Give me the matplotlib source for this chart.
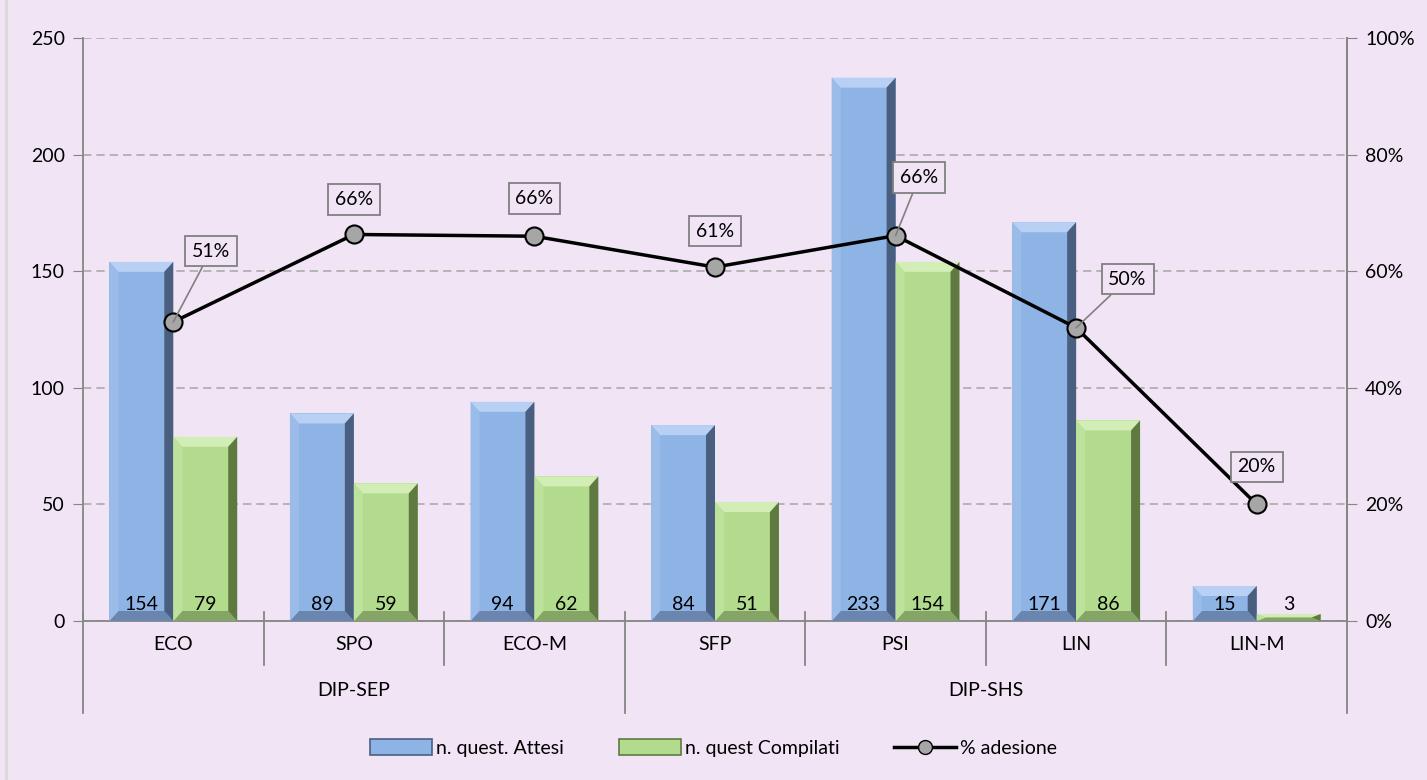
import matplotlib
matplotlib.use("Agg")
import matplotlib.pyplot as plt
from matplotlib.patches import Polygon
from matplotlib.lines import Line2D
from matplotlib.ticker import PercentFormatter
import matplotlib.transforms as mtransforms

# data
categories = ["ECO", "SPO", "ECO-M", "SFP", "PSI", "LIN", "LIN-M"]
groups = ["DIP-SEP", "DIP-SHS"]
group_sizes = [3, 4]
attesi = [154, 89, 94, 84, 233, 171, 15]
compilati = [79, 59, 62, 51, 154, 86, 3]
adesione = [0.513, 0.663, 0.660, 0.607, 0.661, 0.503, 0.20]

# label offsets for the % labels (points)
label_offsets = [(27, 51), (0, 25), (0, 27), (0, 26), (17, 42), (37, 35), (0, 27)]
leader = [True, False, False, False, True, True, False]

bg = "#F0E4F5"
grey = "#868686"
fs = 14
plt.rcParams["font.family"] = ["Lato", "DejaVu Sans"]

fig = plt.figure(figsize=(14.27, 7.8), dpi=100, facecolor=bg)
ax = fig.add_axes([83 / 1427, 1 - 621 / 780, 1264 / 1427, 583 / 780])
ax.set_facecolor(bg)
ax.set_xlim(-0.5, len(categories) - 0.5)
ax.set_ylim(0, 250)

w = 0.354
x = list(range(len(categories)))
bars_a = ax.bar([i - w / 2 for i in x], attesi, w, color="#8EB4E5", zorder=2)
bars_c = ax.bar([i + w / 2 for i in x], compilati, w, color="#B2DB8E", zorder=2)

# px to data units
px_x = (len(categories)) / 1264.0
px_y = 250 / 583.0


def bevel(bars, top, left, right, bottom):
    for b in bars:
        x0, y0 = b.get_x(), b.get_y()
        x1, y1 = x0 + b.get_width(), y0 + b.get_height()
        dy = min(10 * px_y, (y1 - y0) / 2)
        dx = 9 * px_x
        pts = {
            "top": [(x0, y1), (x1, y1), (x1 - dx, y1 - dy), (x0 + dx, y1 - dy)],
            "bottom": [(x0, y0), (x1, y0), (x1 - dx, y0 + dy), (x0 + dx, y0 + dy)],
            "left": [(x0, y0), (x0, y1), (x0 + dx, y1 - dy), (x0 + dx, y0 + dy)],
            "right": [(x1, y0), (x1, y1), (x1 - dx, y1 - dy), (x1 - dx, y0 + dy)],
        }
        for side, col in (("top", top), ("bottom", bottom), ("left", left), ("right", right)):
            ax.add_patch(Polygon(pts[side], closed=True, facecolor=col, edgecolor="none", zorder=3))


bevel(bars_a, "#B8D0F3", "#9BBCE9", "#4A5F80", "#6A86B0")
bevel(bars_c, "#D2EEB6", "#BCE29C", "#5F7A40", "#84A566")

for i in x:
    ax.text(i - w / 2, 7, str(attesi[i]), ha="center", va="center", fontsize=fs, zorder=5)
    ax.text(i + w / 2, 7, str(compilati[i]), ha="center", va="center", fontsize=fs, zorder=5)

# grid and axes
ax.set_yticks([0, 50, 100, 150, 200, 250])
ax.yaxis.grid(True, color="#ABABAB", linestyle=(0, (5, 3)), linewidth=1.2, zorder=0)
ax.set_axisbelow(True)
ax.spines["top"].set_visible(False)
for s in ["left", "bottom", "right"]:
    ax.spines[s].set_color(grey)
    ax.spines[s].set_linewidth(1.3)
ax.tick_params(axis="y", colors=grey, labelcolor="black", labelsize=fs, length=7, pad=6)
ax.set_xticks([])

ax2 = ax.twinx()
ax2.set_ylim(0, 1)
ax2.set_yticks([0, 0.2, 0.4, 0.6, 0.8, 1.0])
ax2.yaxis.set_major_formatter(PercentFormatter(1.0, decimals=0))
ax2.tick_params(axis="y", colors=grey, labelcolor="black", labelsize=fs, length=7, pad=6)
for s in ["top", "left", "bottom"]:
    ax2.spines[s].set_visible(False)
ax2.spines["right"].set_color(grey)
ax2.spines["right"].set_linewidth(1.3)

ax2.plot(x, adesione, color="black", linewidth=2.5, marker="o", markersize=13,
         markerfacecolor="#A6A6A6", markeredgecolor="black", markeredgewidth=1.5, zorder=4)

for i, v in enumerate(adesione):
    kw = {}
    if leader[i]:
        kw["arrowprops"] = dict(arrowstyle="-", color="#808080", lw=1.2, shrinkA=0, shrinkB=0)
    ax2.annotate(f"{round(v * 100):.0f}%", xy=(i, v), xytext=label_offsets[i],
                 textcoords="offset points", ha="center", va="center", fontsize=fs,
                 bbox=dict(boxstyle="square,pad=0.35", fc=bg, ec="#808080", lw=1.3),
                 zorder=6, **kw)

# multi level category axis
trans = mtransforms.blended_transform_factory(ax.transData, ax.transAxes)
f = 1 / 583.0
for i, c in enumerate(categories):
    ax.text(i, -23 * f, c, transform=trans, ha="center", va="center", fontsize=fs)

bounds = [-0.5]
for n in group_sizes:
    bounds.append(bounds[-1] + n)
for k in range(len(categories) + 1):
    b = k - 0.5
    low = -92 * f if b in bounds else -44 * f
    ax.plot([b, b], [9 * f, low], transform=trans, color=grey, lw=1.3, clip_on=False)
for g, name in enumerate(groups):
    mid = (bounds[g] + bounds[g + 1]) / 2
    ax.text(mid, -69 * f, name, transform=trans, ha="center", va="center", fontsize=fs)

# legend
handles = [
    plt.Rectangle((0, 0), 1, 1, facecolor="#8EB4E5", edgecolor="#4A5F80", lw=1.2),
    plt.Rectangle((0, 0), 1, 1, facecolor="#B2DB8E", edgecolor="#5F7A40", lw=1.2),
    Line2D([0], [0], color="black", lw=2.5, marker="o", markersize=10,
           markerfacecolor="#A6A6A6", markeredgecolor="black"),
]
fig.legend(handles, ["n. quest. Attesi", "n. quest Compilati", "% adesione"],
           loc="center", bbox_to_anchor=(0.5, 1 - 748 / 780), ncol=3, frameon=False,
           fontsize=fs, handlelength=3.2, handleheight=0.9, handletextpad=0.2,
           columnspacing=2.8)

# chart border on the left
fig.add_artist(Line2D([6 / 1427, 6 / 1427], [0, 1], color="#D9D9D9", lw=2))

fig.savefig("out.png", dpi=100, facecolor=bg)
